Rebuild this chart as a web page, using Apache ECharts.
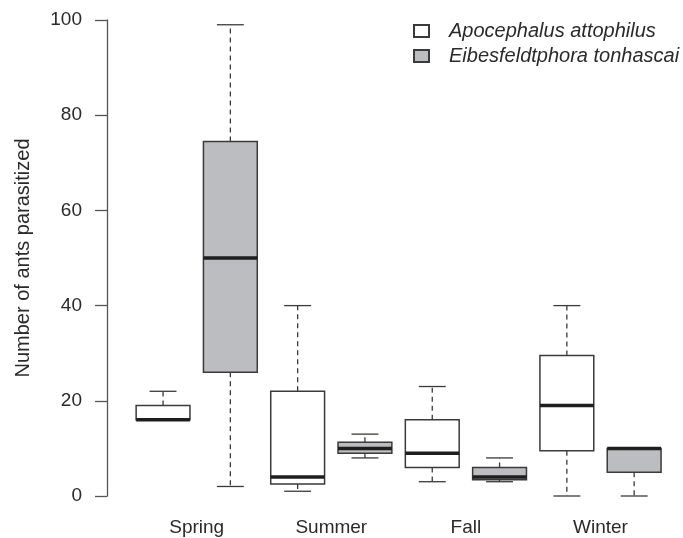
<!DOCTYPE html>
<html>
<head>
<meta charset="utf-8">
<script src="https://cdn.jsdelivr.net/npm/echarts@6/dist/echarts.min.js"></script>
<style>html,body{margin:0;padding:0;background:#fff}#c{width:683px;height:538px}</style>
</head>
<body>
<div id="c"></div>
<script>
const seasons = ['Spring', 'Summer', 'Fall', 'Winter'];
const seriesNames = ['Apocephalus attophilus', 'Eibesfeldtphora tonhascai'];
// [lower whisker, Q1, median, Q3, upper whisker]
const apocephalus = [[16, 16, 16, 19, 22], [1, 2.5, 4, 22, 40], [3, 6, 9, 16, 23], [0, 9.5, 19, 29.5, 40]];
const eibesfeldtphora = [[2, 26, 50, 74.5, 99], [8, 9, 10, 11.3, 13], [3, 3.4, 4, 6, 8], [0, 5, 10, 10, 10]];
const yTicks = [0, 20, 40, 60, 80, 100];

const slots = [];
seasons.forEach(s => { slots.push(s + ' A'); slots.push(s + ' E'); });

const fills = ['#ffffff', '#bcbdc1'];
const stroke = '#3a3a3a';

function renderBox(params, api) {
  const x = api.value(0);
  const lo = api.value(1), q1 = api.value(2), med = api.value(3), q3 = api.value(4), hi = api.value(5);
  const band = api.size([1, 0])[0];
  const w = band * 0.8;
  const cw = w * 0.5;
  const pLo = api.coord([x, lo]), pQ1 = api.coord([x, q1]), pMed = api.coord([x, med]),
        pQ3 = api.coord([x, q3]), pHi = api.coord([x, hi]);
  const cx = pMed[0];
  const color = api.visual('color');
  const children = [];
  const dash = {stroke: stroke, lineWidth: 1.3, lineDash: [5, 4]};
  const solid = {stroke: stroke, lineWidth: 1.3};
  if (hi > q3) {
    children.push({type: 'line', shape: {x1: cx, y1: pQ3[1], x2: cx, y2: pHi[1]}, style: dash});
    children.push({type: 'line', shape: {x1: cx - cw / 2, y1: pHi[1], x2: cx + cw / 2, y2: pHi[1]}, style: solid});
  }
  if (lo < q1) {
    children.push({type: 'line', shape: {x1: cx, y1: pQ1[1], x2: cx, y2: pLo[1]}, style: dash});
    children.push({type: 'line', shape: {x1: cx - cw / 2, y1: pLo[1], x2: cx + cw / 2, y2: pLo[1]}, style: solid});
  }
  children.push({type: 'rect', shape: {x: cx - w / 2, y: pQ3[1], width: w, height: pQ1[1] - pQ3[1]},
    style: {fill: color, stroke: stroke, lineWidth: 1.5}});
  children.push({type: 'line', shape: {x1: cx - w / 2, y1: pMed[1], x2: cx + w / 2, y2: pMed[1]},
    style: {stroke: '#1e1e1e', lineWidth: 3.5}});
  return {type: 'group', children: children};
}

function toData(arr, offset) {
  return arr.map((v, i) => [i * 2 + offset].concat(v));
}

const chart = echarts.init(document.getElementById('c'), null, {renderer: 'canvas'});
chart.setOption({
  animation: false,
  textStyle: {fontFamily: 'Liberation Sans, Arial, sans-serif'},
  grid: {left: 129.4, right: 15.2, top: 20, bottom: 42},
  legend: {
    orient: 'vertical', left: 408, top: 16, itemGap: 5,
    itemWidth: 15, itemHeight: 12, icon: 'rect',
    data: seriesNames,
    textStyle: {fontSize: 20, fontStyle: 'italic', color: '#2a2a2a', padding: [0, 0, 0, 15]},
    selectedMode: false
  },
  xAxis: [
    {type: 'category', data: slots, show: false, boundaryGap: true},
    {type: 'category', data: seasons, position: 'bottom', boundaryGap: true,
     axisLine: {show: false}, axisTick: {show: false},
     axisLabel: {fontSize: 19, color: '#2a2a2a', margin: 22}}
  ],
  yAxis: {
    type: 'value', min: yTicks[0], max: yTicks[yTicks.length - 1], interval: 20,
    offset: 22.4,
    name: 'Number of ants parasitized', nameLocation: 'middle', nameGap: 74,
    nameTextStyle: {fontSize: 20, color: '#2a2a2a'},
    axisLine: {show: true, lineStyle: {color: '#555', width: 1.3}},
    axisTick: {show: true, length: 12, lineStyle: {color: '#555', width: 1.3}},
    axisLabel: {fontSize: 19, color: '#2a2a2a', margin: 25},
    splitLine: {show: false}
  },
  series: [
    {name: seriesNames[0], type: 'custom', xAxisIndex: 0, renderItem: renderBox,
     itemStyle: {color: fills[0], borderColor: stroke, borderWidth: 1.2},
     encode: {x: 0, y: [1, 2, 3, 4, 5]}, data: toData(apocephalus, 0)},
    {name: seriesNames[1], type: 'custom', xAxisIndex: 0, renderItem: renderBox,
     itemStyle: {color: fills[1], borderColor: stroke, borderWidth: 1.2},
     encode: {x: 0, y: [1, 2, 3, 4, 5]}, data: toData(eibesfeldtphora, 1)}
  ]
});
</script>
</body>
</html>
